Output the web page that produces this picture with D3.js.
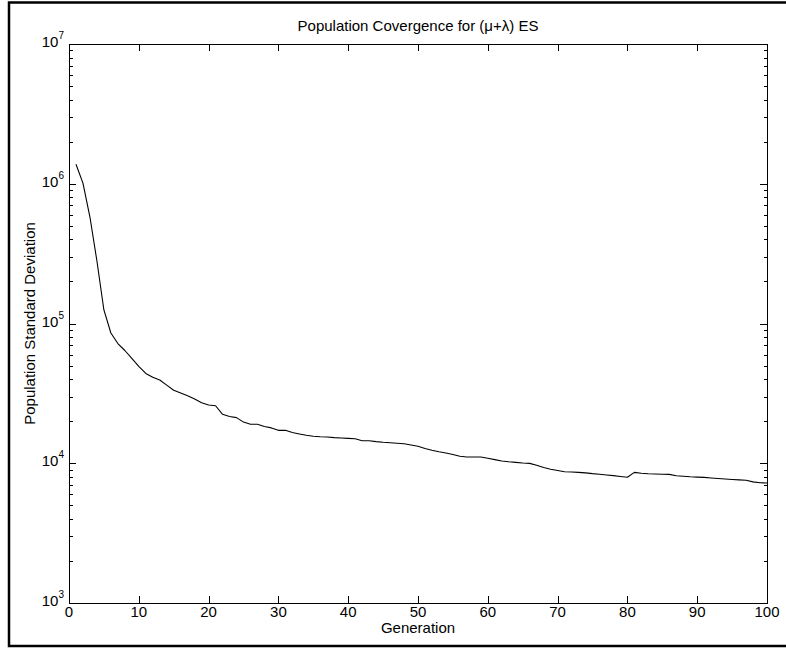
<!DOCTYPE html>
<html>
<head>
<meta charset="utf-8">
<script src="https://cdn.jsdelivr.net/npm/d3@7"></script>
<style>
  html, body { margin: 0; padding: 0; background: #fff; }
  svg { display: block; }
  text { font-family: "Liberation Sans", Arial, Helvetica, sans-serif; fill: #000; }
</style>
</head>
<body>
<svg id="chart" width="786" height="651"></svg>
<script>
// Population standard deviation per generation of a (mu+lambda) evolution strategy
const generations = d3.range(1, 101);
const stdDev = [
  1.38e6, 1.01e6, 5.78e5, 2.80e5, 1.25e5, 8.55e4, 7.19e4, 6.41e4, 5.62e4, 4.93e4,
  4.39e4, 4.12e4, 3.94e4, 3.62e4, 3.33e4, 3.18e4, 3.04e4, 2.88e4, 2.71e4, 2.61e4,
  2.58e4, 2.24e4, 2.16e4, 2.12e4, 1.97e4, 1.90e4, 1.90e4, 1.83e4, 1.79e4, 1.72e4,
  1.72e4, 1.66e4, 1.62e4, 1.585e4, 1.56e4, 1.546e4, 1.541e4, 1.526e4, 1.516e4, 1.506e4,
  1.499e4, 1.45e4, 1.45e4, 1.429e4, 1.413e4, 1.403e4, 1.392e4, 1.378e4, 1.351e4, 1.322e4,
  1.275e4, 1.238e4, 1.208e4, 1.184e4, 1.155e4, 1.123e4, 1.109e4, 1.109e4, 1.109e4, 1.085e4,
  1.062e4, 1.038e4, 1.024e4, 1.014e4, 1.004e4, 9980, 9680, 9320, 9070, 8880,
  8700, 8660, 8610, 8540, 8430, 8350, 8240, 8150, 8040, 7950,
  8610, 8490, 8410, 8380, 8350, 8320, 8130, 8070, 8000, 7960,
  7920, 7840, 7780, 7720, 7660, 7610, 7560, 7360, 7250, 7220
];
const xTickValues = [0, 10, 20, 30, 40, 50, 60, 70, 80, 90, 100];
const yDecades = [1e3, 1e4, 1e5, 1e6, 1e7];

const titleText = "Population Covergence for (\u03bc+\u03bb) ES";
const xLabelText = "Generation";
const yLabelText = "Population Standard Deviation";

const svg = d3.select("#chart");
const W = 786, H = 651;
const plot = { left: 69, right: 767, top: 44, bottom: 603 };
const fontSize = 15, expSize = 10;

svg.append("rect").attr("width", W).attr("height", H).attr("fill", "#fff");

// figure frame
svg.append("path")
  .attr("d", `M${W + 10},2.5 H9 V646 H${W + 10}`)
  .attr("fill", "none").attr("stroke", "#000").attr("stroke-width", 2.5);

const x = d3.scaleLinear().domain([0, 100]).range([plot.left, plot.right]);
const y = d3.scaleLog().domain([1e3, 1e7]).range([plot.bottom, plot.top]);

const majorLen = 7, minorLen = 3.5;
const axes = svg.append("g").attr("stroke", "#000").attr("stroke-width", 1).attr("shape-rendering", "crispEdges");

// axes box
axes.append("rect")
  .attr("x", plot.left).attr("y", plot.top)
  .attr("width", plot.right - plot.left).attr("height", plot.bottom - plot.top)
  .attr("fill", "none");

// x ticks on bottom and top, pointing inward
xTickValues.forEach(v => {
  const px = Math.round(x(v)) + 0.5;
  axes.append("line").attr("x1", px).attr("x2", px).attr("y1", plot.bottom).attr("y2", plot.bottom - majorLen);
  axes.append("line").attr("x1", px).attr("x2", px).attr("y1", plot.top).attr("y2", plot.top + majorLen);
});

// y ticks (log: majors at decades, minors between) on left and right
y.ticks().forEach(v => {
  const isMajor = Math.abs(Math.log10(v) - Math.round(Math.log10(v))) < 1e-9;
  const len = isMajor ? majorLen : minorLen;
  const py = Math.round(y(v)) + 0.5;
  axes.append("line").attr("x1", plot.left).attr("x2", plot.left + len).attr("y1", py).attr("y2", py);
  axes.append("line").attr("x1", plot.right).attr("x2", plot.right - len).attr("y1", py).attr("y2", py);
});

// x tick labels
svg.append("g").selectAll("text").data(xTickValues).join("text")
  .attr("x", d => x(d)).attr("y", plot.bottom + 14)
  .attr("text-anchor", "middle").attr("font-size", fontSize)
  .text(d => d);

// y tick labels as 10^n
const yl = svg.append("g").selectAll("text").data(yDecades).join("text")
  .attr("x", plot.left - 5).attr("y", d => y(d) + 3)
  .attr("text-anchor", "end").attr("font-size", fontSize);
yl.append("tspan").text("10");
yl.append("tspan").attr("dy", -8).attr("font-size", expSize).text(d => Math.round(Math.log10(d)));

// title and axis labels
svg.append("text")
  .attr("x", (plot.left + plot.right) / 2).attr("y", 31)
  .attr("text-anchor", "middle").attr("font-size", fontSize)
  .text(titleText);

svg.append("text")
  .attr("x", (plot.left + plot.right) / 2).attr("y", plot.bottom + 30)
  .attr("text-anchor", "middle").attr("font-size", fontSize)
  .text(xLabelText);

svg.append("text")
  .attr("transform", `translate(35,${(plot.top + plot.bottom) / 2}) rotate(-90)`)
  .attr("text-anchor", "middle").attr("font-size", fontSize)
  .text(yLabelText);

// convergence curve
const line = d3.line()
  .x((d, i) => x(generations[i]))
  .y(d => y(d));

svg.append("path")
  .datum(stdDev)
  .attr("d", line)
  .attr("fill", "none")
  .attr("stroke", "#000")
  .attr("stroke-width", 1.1)
  .attr("stroke-linejoin", "round");
</script>
</body>
</html>
